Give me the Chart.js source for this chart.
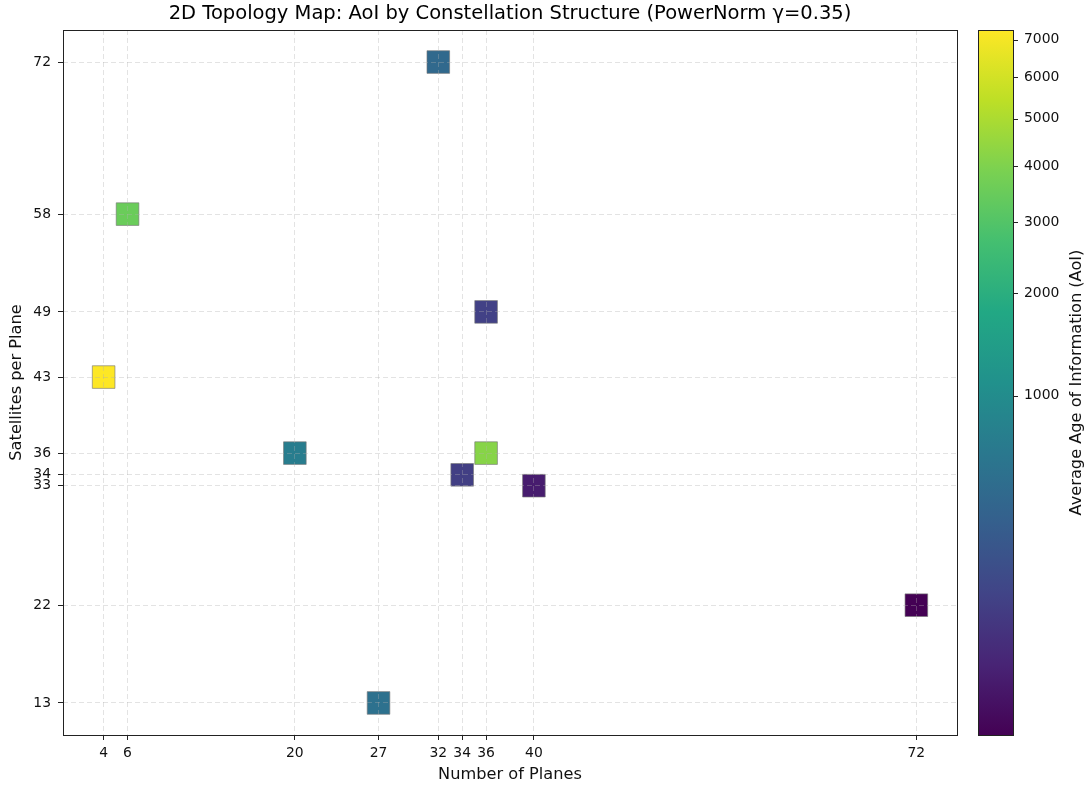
<!DOCTYPE html>
<html>
<head>
<meta charset="utf-8">
<title>2D Topology Map</title>
<script src="https://cdn.jsdelivr.net/npm/chart.js@4.4.1/dist/chart.umd.min.js"></script>
<style>
body { margin: 0; background: #fff; }
</style>
</head>
<body>
<canvas id="myChart" width="1091" height="789"></canvas>
<script>
var planes = [32, 6, 36, 4, 20, 36, 34, 40, 72, 27];
var satsPerPlane = [72, 58, 49, 43, 36, 36, 34, 33, 22, 13];
var aoiValues = [445, 3510, 178, 7283, 715, 4180, 172, 119, 114, 535];
var planeTicks = [4, 6, 20, 27, 32, 34, 36, 40, 72];
var satTicks = [13, 22, 33, 34, 36, 43, 49, 58, 72];
var aoiTicks = [1000, 2000, 3000, 4000, 5000, 6000, 7000];
var gamma = 0.35;

var FONT = "DejaVu Sans";
var viridis = [[68,1,84],[72,36,117],[65,68,135],[53,95,141],[42,120,142],[33,145,140],[34,168,132],[68,191,112],[122,209,81],[189,223,38],[253,231,37]];
var vmin = Math.min.apply(null, aoiValues);
var vmax = Math.max.apply(null, aoiValues);

function powerNorm(v)
{
    var t = (v - vmin) / (vmax - vmin);
    t = Math.max(0, Math.min(1, t));
    return Math.pow(t, gamma);
}
function viridisColor(t)
{
    var p = t * (viridis.length - 1);
    var i = Math.min(Math.floor(p), viridis.length - 2);
    var f = p - i;
    var a = viridis[i], b = viridis[i + 1];
    var rgb = [0, 1, 2].map(function (k) { return Math.round(a[k] + (b[k] - a[k]) * f); });
    return 'rgb(' + rgb.join(',') + ')';
}
function margin(arr, lo)
{
    var mn = Math.min.apply(null, arr), mx = Math.max.apply(null, arr);
    var m = (mx - mn) * 0.05;
    return lo ? mn - m : mx + m;
}

var points = [];
var colors = [];
for (var i = 0; i < planes.length; i++) {
    points.push({x: planes[i], y: satsPerPlane[i]});
    colors.push(viridisColor(powerNorm(aoiValues[i])));
}

// colorbar, top/right spines
var colorbarPlugin = {
    id: 'colorbar',
    afterDraw: function (chart) {
        var ctx = chart.ctx;
        var area = chart.chartArea;
        var cb = chart.scales.cb;
        var x0 = area.right + 21, w = 35;
        var grad = ctx.createLinearGradient(0, cb.bottom, 0, cb.top);
        for (var k = 0; k < viridis.length; k++) {
            grad.addColorStop(k / (viridis.length - 1), viridisColor(k / (viridis.length - 1)));
        }
        ctx.save();
        ctx.fillStyle = grad;
        ctx.fillRect(x0, cb.top, w, cb.bottom - cb.top);
        ctx.strokeStyle = '#222';
        ctx.lineWidth = 1;
        ctx.strokeRect(x0 + 0.5, cb.top + 0.5, w, cb.bottom - cb.top);
        cb.ticks.forEach(function (t) {
            var y = Math.round(cb.getPixelForValue(t.value)) + 0.5;
            ctx.beginPath();
            ctx.moveTo(x0 + w, y);
            ctx.lineTo(x0 + w + 5, y);
            ctx.stroke();
        });
        ctx.translate(1077, (cb.top + cb.bottom) / 2);
        ctx.rotate(-Math.PI / 2);
        ctx.fillStyle = '#111';
        ctx.font = "16.2px " + FONT;
        ctx.textAlign = 'center';
        ctx.textBaseline = 'middle';
        ctx.fillText('Average Age of Information (AoI)', 0, 0);
        ctx.restore();

        ctx.save();
        ctx.strokeStyle = '#222';
        ctx.lineWidth = 1;
        ctx.strokeRect(area.left + 0.5, area.top + 0.5, area.right - area.left, area.bottom - area.top);
        ctx.restore();
    }
};

var gridOpts = {
    color: 'rgba(176,176,176,0.35)',
    lineWidth: 1,
    z: 1,
    tickColor: '#222',
    tickLength: 5,
    tickWidth: 1,
    tickBorderDash: []
};

var ctx = document.getElementById("myChart").getContext('2d');
var chart = new Chart(ctx, {
    type: 'scatter',
    data: {
        datasets: [{
            data: points,
            backgroundColor: colors,
            borderColor: 'rgba(120,120,120,0.8)',
            borderWidth: 0.8,
            pointStyle: 'rect',
            pointRadius: 16,
            pointHoverRadius: 16
        }]
    },
    options: {
        responsive: false,
        animation: false,
        events: [],
        layout: { padding: 0 },
        plugins: {
            legend: { display: false },
            tooltip: { enabled: false },
            title: {
                display: true,
                text: '2D Topology Map: AoI by Constellation Structure (PowerNorm \u03b3=0.35)',
                color: '#000',
                fullSize: false,
                font: { family: FONT, size: 19.5, weight: 'normal' },
                padding: { top: 2, bottom: 4.6 }
            }
        },
        scales: {
            x: {
                type: 'linear',
                min: margin(planes, true),
                max: margin(planes, false),
                afterBuildTicks: function (axis) {
                    axis.ticks = planeTicks.map(function (v) { return {value: v}; });
                },
                afterFit: function (scale) { scale.height = 54; },
                grid: gridOpts,
                border: { display: false, dash: [5, 3] },
                ticks: {
                    autoSkip: false,
                    maxRotation: 0,
                    padding: 5,
                    color: '#111',
                    font: { family: FONT, size: 13.9 },
                    callback: function (v) { return String(v); }
                },
                title: {
                    display: true,
                    text: 'Number of Planes',
                    color: '#111',
                    font: { family: FONT, size: 16.2 },
                    padding: { top: 0, bottom: 4 }
                }
            },
            y: {
                type: 'linear',
                min: margin(satsPerPlane, true),
                max: margin(satsPerPlane, false),
                afterBuildTicks: function (axis) {
                    axis.ticks = satTicks.map(function (v) { return {value: v}; });
                },
                afterFit: function (scale) { scale.width = 63; },
                grid: gridOpts,
                border: { display: false, dash: [5, 3] },
                ticks: {
                    autoSkip: false,
                    padding: 7,
                    color: '#111',
                    font: { family: FONT, size: 13.9 },
                    callback: function (v) { return String(v); }
                },
                title: {
                    display: true,
                    text: 'Satellites per Plane',
                    color: '#111',
                    font: { family: FONT, size: 16.2 },
                    padding: { top: 7, bottom: 0 }
                }
            },
            cb: {
                type: 'linear',
                axis: 'y',
                position: 'right',
                min: 0,
                max: 1,
                afterBuildTicks: function (axis) {
                    axis.ticks = aoiTicks.map(function (v) { return {value: powerNorm(v)}; });
                },
                afterFit: function (scale) { scale.width = 134; },
                grid: { display: true, drawOnChartArea: false, drawTicks: true, tickLength: 67, tickColor: 'rgba(0,0,0,0)' },
                border: { display: false },
                ticks: {
                    autoSkip: false,
                    padding: 0,
                    color: '#111',
                    font: { family: FONT, size: 13.9 },
                    callback: function (v, idx) { return String(aoiTicks[idx]); }
                }
            }
        }
    },
    plugins: [colorbarPlugin]
});
</script>
</body>
</html>
